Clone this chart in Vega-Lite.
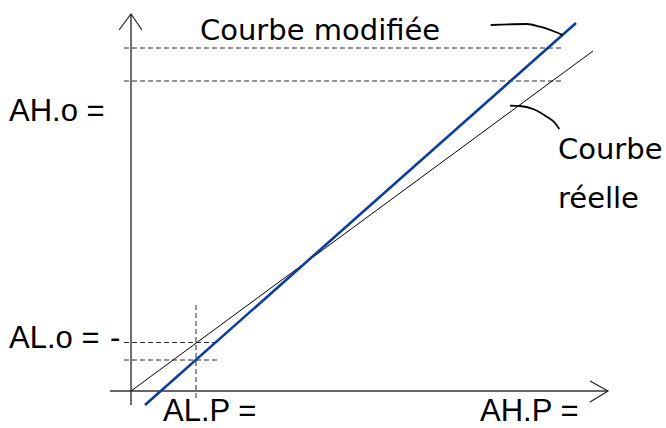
{
  "$schema": "https://vega.github.io/schema/vega-lite/v6.json",
  "width": 666,
  "height": 428,
  "padding": 0,
  "autosize": "none",
  "background": "white",
  "config": {"view": {"stroke": null}},
  "datasets": {
    "segments": [
      {"kind": "yaxis", "x": 0, "y": -14, "x2": 0, "y2": 377},
      {"kind": "xaxis", "x": -21, "y": 0, "x2": 477, "y2": 0},
      {"kind": "dash", "x": -7, "y": 343, "x2": 431, "y2": 343},
      {"kind": "dash", "x": -7, "y": 310, "x2": 431, "y2": 310},
      {"kind": "dash", "x": -7, "y": 48.5, "x2": 89, "y2": 48.5},
      {"kind": "dash", "x": -7, "y": 31, "x2": 89, "y2": 31},
      {"kind": "dash", "x": 65, "y": 86, "x2": 65, "y2": -9},
      {"kind": "real", "x": 0, "y": 0, "x2": 462, "y2": 340},
      {"kind": "modified", "x": 14, "y": -14, "x2": 445, "y2": 368}
    ],
    "arrows": [
      {"id": "yarrow", "i": 0, "x": -12, "y": 361},
      {"id": "yarrow", "i": 1, "x": 0, "y": 377},
      {"id": "yarrow", "i": 2, "x": 11, "y": 361},
      {"id": "xarrow", "i": 0, "x": 459, "y": 10},
      {"id": "xarrow", "i": 1, "x": 477, "y": 0},
      {"id": "xarrow", "i": 2, "x": 459, "y": -11}
    ],
    "callouts": [
      {"id": "c1", "x": 359.7, "y": 366},
      {"id": "c1", "x": 395.7, "y": 367},
      {"id": "c1", "x": 409, "y": 364.3},
      {"id": "c1", "x": 422, "y": 360},
      {"id": "c1", "x": 431.7, "y": 356},
      {"id": "c2", "x": 379, "y": 285.3},
      {"id": "c2", "x": 389, "y": 285},
      {"id": "c2", "x": 402, "y": 282},
      {"id": "c2", "x": 415.7, "y": 274.3},
      {"id": "c2", "x": 424, "y": 268},
      {"id": "c2", "x": 428.3, "y": 262}
    ],
    "titles": [
      {"text": "Courbe modifiée", "x": 69, "y": 351.5},
      {"text": "Courbe", "x": 427, "y": 232},
      {"text": "réelle", "x": 427, "y": 183}
    ],
    "axislabels": [
      {"text": "AH.o =", "x": -122, "y": 270},
      {"text": "AL.o =", "x": -122, "y": 43},
      {"text": "-", "x": -21, "y": 43},
      {"text": "AL.P =", "x": 32, "y": -30},
      {"text": "AH.P =", "x": 349, "y": -30}
    ]
  },
  "layer": [
    {
      "data": {"name": "segments"},
      "transform": [{"filter": "datum.kind === 'dash'"}],
      "mark": {"type": "rule", "stroke": "#2a2a2a", "strokeWidth": 1, "strokeDash": [5, 3]},
      "encoding": {
        "x": {"field": "x", "type": "quantitative", "scale": {"domain": [-131, 535], "nice": false, "zero": false}, "axis": null},
        "y": {"field": "y", "type": "quantitative", "scale": {"domain": [-37, 391], "nice": false, "zero": false}, "axis": null},
        "x2": {"field": "x2"},
        "y2": {"field": "y2"}
      }
    },
    {
      "data": {"name": "segments"},
      "transform": [{"filter": "datum.kind === 'yaxis'"}],
      "mark": {"type": "rule", "stroke": "#6e6e6e", "strokeWidth": 2},
      "encoding": {
        "x": {"field": "x", "type": "quantitative", "scale": {"domain": [-131, 535], "nice": false, "zero": false}, "axis": null},
        "y": {"field": "y", "type": "quantitative", "scale": {"domain": [-37, 391], "nice": false, "zero": false}, "axis": null},
        "x2": {"field": "x2"},
        "y2": {"field": "y2"}
      }
    },
    {
      "data": {"name": "segments"},
      "transform": [{"filter": "datum.kind === 'xaxis'"}],
      "mark": {"type": "rule", "stroke": "#333333", "strokeWidth": 1.5},
      "encoding": {
        "x": {"field": "x", "type": "quantitative", "scale": {"domain": [-131, 535], "nice": false, "zero": false}, "axis": null},
        "y": {"field": "y", "type": "quantitative", "scale": {"domain": [-37, 391], "nice": false, "zero": false}, "axis": null},
        "x2": {"field": "x2"},
        "y2": {"field": "y2"}
      }
    },
    {
      "data": {"name": "segments"},
      "transform": [{"filter": "datum.kind === 'real'"}],
      "mark": {"type": "rule", "stroke": "#000000", "strokeWidth": 1},
      "encoding": {
        "x": {"field": "x", "type": "quantitative", "scale": {"domain": [-131, 535], "nice": false, "zero": false}, "axis": null},
        "y": {"field": "y", "type": "quantitative", "scale": {"domain": [-37, 391], "nice": false, "zero": false}, "axis": null},
        "x2": {"field": "x2"},
        "y2": {"field": "y2"}
      }
    },
    {
      "data": {"name": "segments"},
      "transform": [{"filter": "datum.kind === 'modified'"}],
      "mark": {"type": "rule", "stroke": "#0b3d9c", "strokeWidth": 2.6},
      "encoding": {
        "x": {"field": "x", "type": "quantitative", "scale": {"domain": [-131, 535], "nice": false, "zero": false}, "axis": null},
        "y": {"field": "y", "type": "quantitative", "scale": {"domain": [-37, 391], "nice": false, "zero": false}, "axis": null},
        "x2": {"field": "x2"},
        "y2": {"field": "y2"}
      }
    },
    {
      "data": {"name": "arrows"},
      "mark": {"type": "line", "stroke": "#222222", "strokeWidth": 1.2},
      "encoding": {
        "x": {"field": "x", "type": "quantitative", "scale": {"domain": [-131, 535], "nice": false, "zero": false}, "axis": null},
        "y": {"field": "y", "type": "quantitative", "scale": {"domain": [-37, 391], "nice": false, "zero": false}, "axis": null},
        "detail": {"field": "id"},
        "order": {"field": "i", "type": "quantitative"}
      }
    },
    {
      "data": {"name": "callouts"},
      "mark": {"type": "line", "stroke": "#000000", "strokeWidth": 1.8, "interpolate": "monotone"},
      "encoding": {
        "x": {"field": "x", "type": "quantitative", "scale": {"domain": [-131, 535], "nice": false, "zero": false}, "axis": null},
        "y": {"field": "y", "type": "quantitative", "scale": {"domain": [-37, 391], "nice": false, "zero": false}, "axis": null},
        "detail": {"field": "id"}
      }
    },
    {
      "data": {"name": "titles"},
      "mark": {"type": "text", "font": "DejaVu Sans", "fontSize": 29, "align": "left", "baseline": "alphabetic", "color": "#000000"},
      "encoding": {
        "x": {"field": "x", "type": "quantitative", "scale": {"domain": [-131, 535], "nice": false, "zero": false}, "axis": null},
        "y": {"field": "y", "type": "quantitative", "scale": {"domain": [-37, 391], "nice": false, "zero": false}, "axis": null},
        "text": {"field": "text"}
      }
    },
    {
      "data": {"name": "axislabels"},
      "mark": {"type": "text", "font": "Liberation Sans", "fontSize": 31, "align": "left", "baseline": "alphabetic", "color": "#000000"},
      "encoding": {
        "x": {"field": "x", "type": "quantitative", "scale": {"domain": [-131, 535], "nice": false, "zero": false}, "axis": null},
        "y": {"field": "y", "type": "quantitative", "scale": {"domain": [-37, 391], "nice": false, "zero": false}, "axis": null},
        "text": {"field": "text"}
      }
    }
  ]
}
